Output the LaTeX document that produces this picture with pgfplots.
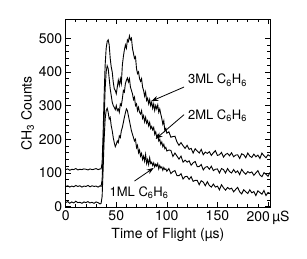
\documentclass[border=0pt]{standalone}
\usepackage{pgfplots}
\pgfplotsset{compat=1.18}
\usepackage{fontspec}
\setmainfont{TeX Gyre Heros}
\usetikzlibrary{arrows.meta}
\begin{document}
\begin{tikzpicture}
\begin{axis}[
  scale only axis, width=204.3pt, height=188pt,
  xmin=0, xmax=202, ymin=-2, ymax=556,
  clip=false,
  xtick={0,50,100,150,200},
  xticklabels={0,50,100,150,200\,µS},
  ytick={0,100,200,300,400,500},
  minor x tick num=4, minor y tick num=4,
  tick align=inside, tick pos=both,
  major tick length=5pt, minor tick length=3pt,
  every tick/.style={black, line width=0.7pt},
  axis line style={line width=0.9pt},
  /pgf/number format/assume math mode=true,
  tick label style={font=\fontsize{14}{16}\selectfont},
  label style={font=\fontsize{14}{16}\selectfont},
  xlabel={Time of Flight (µs)},
  ylabel={CH\textsubscript{3} Counts},
  xlabel style={yshift=3pt},
  ylabel style={yshift=-2pt},
]
\path (rel axis cs:-0.3216,-0.2697) rectangle (rel axis cs:1.181,1.1027);
% 3ML
\addplot[black, line width=0.9pt] coordinates {
(0,110)(2,112)(4,108)(6,111)(8,110)(10,113)(12,109)(14,111)(16,110)(18,112)(20,111)(22,109)(24,112)(26,110)(28,111)(30,113)(32,110)(34,112)
(35,112)(36,130)(37,220)(38,330)(39,420)(40,470)(41,490)(42,495)(43,480)(44,440)(45,415)(46,400)(47,370)(48,350)(49,345)(50,335)
(51,355)(52,375)(53,360)(54,380)(55,365)(56,420)(57,445)(58,465)(59,480)(60,470)(61,495)(62,490)(63,507)(64,495)(65,500)
(66,470)(67,455)(68,440)(69,445)(70,410)(71,395)(72,400)(73,380)(74,372)(75,380)(76,355)(77,345)(78,328)(79,340)(80,315)
(81,322)(82,305)(83,318)(84,300)(85,310)(86,292)(87,305)(88,285)(89,300)(90,290)(91,302)(92,280)(93,290)(94,275)(95,262)
(96,245)(97,255)(98,225)(99,232)(100,218)
(102,222)(104,206)(106,208)(108,209)(110,192)(112,182)(114,190)(116,181)(118,173)(120,182)(122,170)(124,173)(126,159)(128,172)
(130,165)(132,159)(134,170)(136,154)(138,162)(140,158)(142,163)(144,152)(146,160)(148,166)(150,152)(152,154)(154,161)(156,147)
(158,155)(160,158)(162,151)(164,160)(166,148)(168,153)(170,154)(172,143)(174,157)(176,154)(178,145)(180,159)(182,150)(184,146)
(186,156)(188,148)(190,153)(192,143)(194,159)(196,151)(198,145)(200,154)(202,150)
};
% 2ML
\addplot[black, line width=0.9pt] coordinates {
(0,60)(2,62)(4,58)(6,61)(8,59)(10,63)(12,60)(14,62)(16,58)(18,61)(20,60)(22,63)(24,59)(26,62)(28,60)(30,61)(32,58)(34,62)
(35,60)(36,80)(37,160)(38,260)(39,350)(40,400)(41,418)(42,410)(43,380)(44,350)(45,330)(46,310)(47,300)(48,295)(49,288)(50,300)
(51,285)(52,290)(53,280)(54,305)(55,300)(56,320)(57,345)(58,340)(59,365)(60,375)(61,382)(62,370)(63,380)(64,355)(65,345)
(66,335)(67,318)(68,325)(69,300)(70,305)(71,285)(72,295)(73,280)(74,275)(75,285)(76,262)(77,270)(78,252)(79,265)(80,248)
(81,255)(82,240)(83,250)(84,232)(85,238)(86,228)(87,235)(88,215)(89,222)(90,205)(91,212)(92,195)(93,200)(94,185)(95,192)
(96,178)(97,185)(98,172)(99,176)(100,165)
(102,168)(104,167)(106,149)(108,159)(110,150)(112,141)(114,150)(116,132)(118,138)(120,132)(122,136)(124,123)(126,130)(128,134)
(130,119)(132,119)(134,125)(136,109)(138,117)(140,119)(142,111)(144,120)(146,107)(148,111)(150,112)(152,100)(154,113)(156,110)
(158,100)(160,113)(162,104)(164,100)(166,110)(168,101)(170,106)(172,95)(174,111)(176,102)(178,96)(180,104)(182,100)(184,103)
(186,93)(188,100)(190,107)(192,94)(194,89)(196,101)(198,96)(200,90)(202,102)
};
% 1ML
\addplot[black, line width=0.9pt] coordinates {
(0,12)(2,15)(4,10)(6,14)(8,11)(10,16)(12,12)(14,13)(16,10)(18,14)(20,12)(22,15)(24,11)(26,13)(28,10)(30,14)(32,12)(34,8)
(35,10)(36,30)(37,110)(38,200)(39,260)(40,285)(41,292)(42,280)(43,260)(44,265)(45,240)(46,225)(47,205)(48,190)(49,178)(50,185)
(51,195)(52,190)(53,210)(54,205)(55,225)(56,235)(57,250)(58,265)(59,278)(60,290)(61,285)(62,270)(63,255)(64,240)(65,225)
(66,215)(67,205)(68,195)(69,200)(70,175)(71,182)(72,160)(73,168)(74,150)(75,158)(76,140)(77,150)(78,135)(79,155)(80,128)
(81,140)(82,125)(83,145)(84,128)(85,132)(86,122)(87,130)(88,118)(89,126)(90,120)(91,128)(92,112)(93,122)(94,115)(95,118)
(96,108)(97,116)(98,110)(99,112)(100,105)
(102,113)(104,98)(106,104)(108,107)(110,92)(112,92)(114,98)(116,82)(118,89)(120,90)(122,81)(124,89)(126,75)(128,78)
(130,78)(132,65)(134,77)(136,73)(138,62)(140,74)(142,63)(144,58)(146,67)(148,58)(150,61)(152,50)(154,65)(156,56)
(158,49)(160,57)(162,52)(164,55)(166,44)(168,51)(170,57)(172,44)(174,38)(176,50)(178,44)(180,39)(182,50)(184,41)
(186,45)(188,33)(190,47)(192,42)(194,37)(196,48)(198,33)(200,42)(202,39)
};
\node[font=\fontsize{13}{15}\selectfont] at (axis cs:150,375) {3ML C\textsubscript{6}H\textsubscript{6}};
\node[font=\fontsize{13}{15}\selectfont] at (axis cs:150,270) {2ML C\textsubscript{6}H\textsubscript{6}};
\node[font=\fontsize{13}{15}\selectfont] at (axis cs:72.5,41) {1ML C\textsubscript{6}H\textsubscript{6}};
\draw[-{Stealth[length=7pt,width=5pt]}, line width=0.8pt] (axis cs:117,355) -- (axis cs:84.6,313);
\draw[-{Stealth[length=7pt,width=5pt]}, line width=0.8pt] (axis cs:117,273) -- (axis cs:89,201);
\draw[-{Stealth[length=7pt,width=5pt]}, line width=0.8pt] (axis cs:68,76) -- (axis cs:87,115);
\end{axis}
\end{tikzpicture}
\end{document}
